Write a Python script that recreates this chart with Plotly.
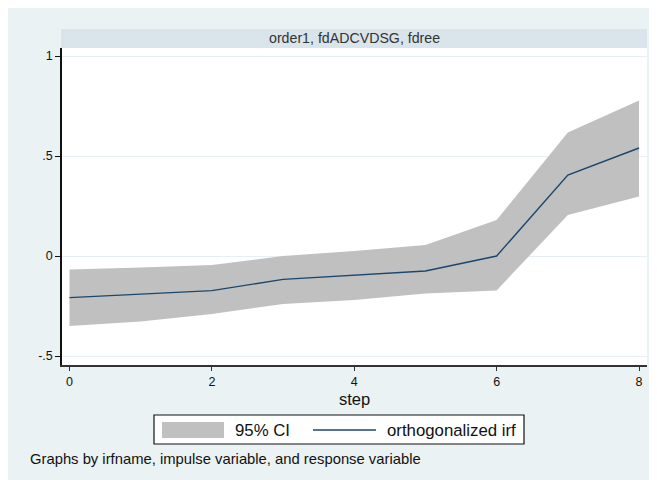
import plotly.graph_objects as go

# ---- data ----
step = [0, 1, 2, 3, 4, 5, 6, 7, 8]
irf = [-0.208, -0.192, -0.173, -0.117, -0.095, -0.075, 0.0, 0.405, 0.54]
ci_upper = [-0.067, -0.058, -0.045, 0.0, 0.025, 0.055, 0.18, 0.617, 0.777]
ci_lower = [-0.35, -0.328, -0.29, -0.24, -0.22, -0.187, -0.172, 0.205, 0.297]
y_tickvals = [-0.5, 0, 0.5, 1]
y_ticktext = ["-.5", "0", ".5", "1"]
x_tickvals = [0, 2, 4, 6, 8]
panel_title = "order1, fdADCVDSG, fdree"
note_text = "Graphs by irfname, impulse variable, and response variable"
legend_labels = ["95% CI", "orthogonalized irf"]

# page has an 8px body margin; figure occupies the rest of the 657x480 window
OFF = 8
W, H = 657 - OFF, 480 - OFF
L, R, T, B = 62 - OFF, 10, 48 - OFF, 480 - 365
PW = W - L - R
PH = H - T - B

def px(x):  # screen x -> paper
    return (x - OFF - L) / PW

def py(y):  # screen y -> paper
    return (H - B - (y - OFF)) / PH

FONT = "Liberation Sans, Arial, sans-serif"
BG = "#EAF2F3"
NAVY = "#1A476F"
GREY = "#C0C0C0"

fig = go.Figure()
fig.add_trace(go.Scatter(x=step, y=ci_lower, mode="lines", line=dict(width=0, color=GREY),
                         showlegend=False, hoverinfo="skip"))
fig.add_trace(go.Scatter(x=step, y=ci_upper, mode="lines", line=dict(width=0, color=GREY),
                         fill="tonexty", fillcolor=GREY, name=legend_labels[0], showlegend=False))
fig.add_trace(go.Scatter(x=step, y=irf, mode="lines", line=dict(width=1.4, color=NAVY),
                         name=legend_labels[1], showlegend=False))

shapes = [
    # strip header
    dict(type="rect", xref="paper", yref="paper", x0=px(61), x1=px(647), y0=py(29), y1=py(48),
         fillcolor="#D9E5EA", line=dict(width=0), layer="above"),
    # legend box
    dict(type="rect", xref="paper", yref="paper", x0=px(154), x1=px(524), y0=py(415), y1=py(444),
         fillcolor="white", line=dict(width=1.2, color="#111111"), layer="above"),
    # legend swatch
    dict(type="rect", xref="paper", yref="paper", x0=px(162), x1=px(224), y0=py(422), y1=py(438),
         fillcolor=GREY, line=dict(width=0), layer="above"),
    # legend line sample
    dict(type="line", xref="paper", yref="paper", x0=px(313), x1=px(376), y0=py(430), y1=py(430),
         line=dict(width=1.4, color=NAVY), layer="above"),
]

annotations = [
    dict(text=panel_title, xref="paper", yref="paper", x=px(354), y=py(38), xanchor="center", yanchor="middle",
         showarrow=False, font=dict(family=FONT, size=14.2, color="#333333")),
    dict(text=legend_labels[0], xref="paper", yref="paper", x=px(233), y=py(430), xanchor="left", yanchor="middle",
         showarrow=False, font=dict(family=FONT, size=16.8, color="#111111")),
    dict(text=legend_labels[1], xref="paper", yref="paper", x=px(385), y=py(430), xanchor="left", yanchor="middle",
         showarrow=False, font=dict(family=FONT, size=16.8, color="#111111")),
    dict(text=note_text, xref="paper", yref="paper", x=px(28), y=py(459), xanchor="left", yanchor="middle",
         showarrow=False, font=dict(family=FONT, size=14.8, color="#111111")),
]

fig.update_layout(
    width=W, height=H,
    margin=dict(l=L, r=R, t=T, b=B, pad=0),
    paper_bgcolor=BG, plot_bgcolor="white",
    font=dict(family=FONT, color="#111111"),
    showlegend=False,
    shapes=shapes, annotations=annotations,
    xaxis=dict(range=[-0.105, 8.112], tickvals=x_tickvals, ticks="outside", ticklen=4, tickwidth=1,
               tickcolor="#333333", showgrid=False, zeroline=False, showline=True, linecolor="#333333",
               linewidth=1.5, tickfont=dict(size=12.5, color="#111111"),
               title=dict(text="step", font=dict(size=16.5, color="#111111"), standoff=6)),
    yaxis=dict(range=[-0.545, 1.04], tickvals=y_tickvals, ticktext=y_ticktext, ticks="outside", ticklen=5,
               tickwidth=1, tickcolor="#111111", showgrid=True, gridcolor="#E6EFF1", gridwidth=1,
               zeroline=False, showline=True, linecolor="#111111", linewidth=1.5,
               tickfont=dict(size=12.5, color="#111111")),
)

fig.write_html("out.html")
